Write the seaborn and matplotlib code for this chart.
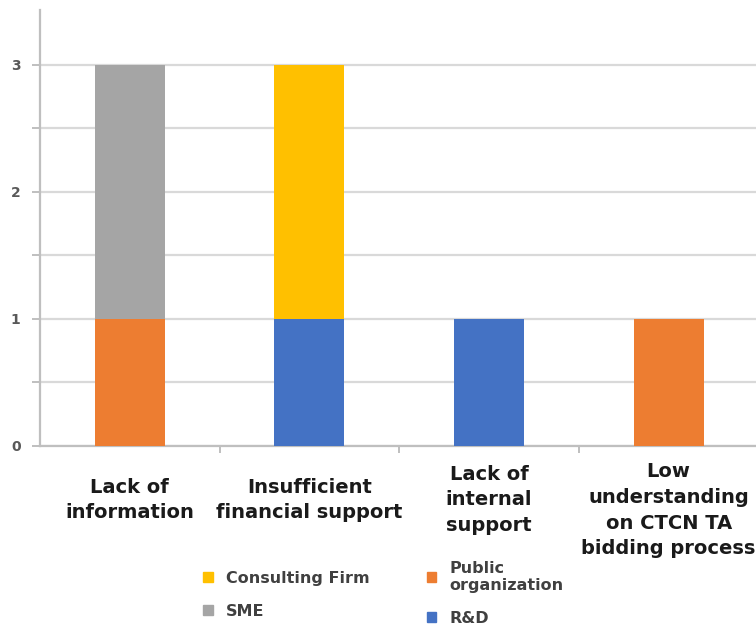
import pandas as pd
import matplotlib.pyplot as plt
import seaborn as sns
from matplotlib.patches import Patch

# data
categories = ['Lack of\ninformation', 'Insufficient\nfinancial support',
              'Lack of\ninternal\nsupport',
              'Low\nunderstanding\non CTCN TA\nbidding process']
rnd = [0, 1, 1, 0]
public_org = [1, 0, 0, 1]
sme = [2, 0, 0, 0]
consulting = [0, 2, 0, 0]

series = ['R&D', 'Public organization', 'SME', 'Consulting Firm']
colors = {'Consulting Firm': '#FFC000', 'SME': '#A5A5A5',
          'Public organization': '#ED7D31', 'R&D': '#4472C4'}

# cumulative tops (stack from bottom: R&D, Public, SME, Consulting)
rows = []
cum = [0, 0, 0, 0]
for name, vals in zip(series, [rnd, public_org, sme, consulting]):
    cum = [c + v for c, v in zip(cum, vals)]
    for cat, c in zip(categories, cum):
        rows.append({'category': cat, 'series': name, 'top': c})
df = pd.DataFrame(rows)

sns.set_style('white')
plt.rcParams['font.family'] = ['DejaVu Sans']

fig = plt.figure(figsize=(7.56, 6.37), dpi=100)
ax = fig.add_axes([0.053, 0.30, 0.955, 0.684])

draw_order = ['Consulting Firm', 'SME', 'Public organization', 'R&D']
sns.barplot(data=df, x='category', y='top', hue='series', hue_order=draw_order,
            order=categories, dodge=False, width=0.39, palette=colors,
            saturation=1, ax=ax, legend=False, zorder=3, linewidth=0,
            edgecolor='none')

ax.set_ylim(0, 3.43)
ax.set_xlim(-0.5, 3.52)
ax.set_yticks([0, 0.5, 1, 1.5, 2, 2.5, 3])
ax.set_yticklabels(['0', '', '1', '', '2', '', '3'], fontsize=10,
                   fontweight='bold', color='#595959')
ax.grid(axis='y', color='#D9D9D9', linewidth=1.6, zorder=0)
ax.set_axisbelow(True)
for s in ['top', 'right']:
    ax.spines[s].set_visible(False)
ax.spines['left'].set_color('#BFBFBF')
ax.spines['left'].set_linewidth(1.6)
ax.spines['bottom'].set_color('#BFBFBF')
ax.spines['bottom'].set_linewidth(1.6)
ax.set_xticks([0.5, 1.5, 2.5])
ax.set_xticklabels([])
ax.tick_params(axis='y', left=True, length=6, color='#BFBFBF', width=1.4, pad=8)
ax.tick_params(axis='x', bottom=True, length=5, color='#BFBFBF', width=1.4)
ax.set_xlabel('')
ax.set_ylabel('')

# category labels
label_y = [-0.124, -0.124, -0.124, -0.037]
label_va = ['center', 'center', 'center', 'top']
for i, (cat, yy, va) in enumerate(zip(categories, label_y, label_va)):
    ax.text(i, yy, cat, transform=ax.get_xaxis_transform(), ha='center',
            va=va, fontsize=14, fontweight='bold', color='#1a1a1a',
            linespacing=1.45, clip_on=False)

legend_names = ['Consulting Firm', 'SME', 'Public\norganization', 'R&D']
handles = [Patch(color=colors[n]) for n in draw_order]
fig.legend(handles, legend_names, ncol=2, loc='lower left',
           bbox_to_anchor=(0.25, -0.005), frameon=False,
           prop={'weight': 'bold', 'size': 11.5}, handlelength=0.6,
           handleheight=0.6, columnspacing=3.6, labelspacing=1.1,
           labelcolor='#404040')

fig.savefig('out.png', dpi=100)
